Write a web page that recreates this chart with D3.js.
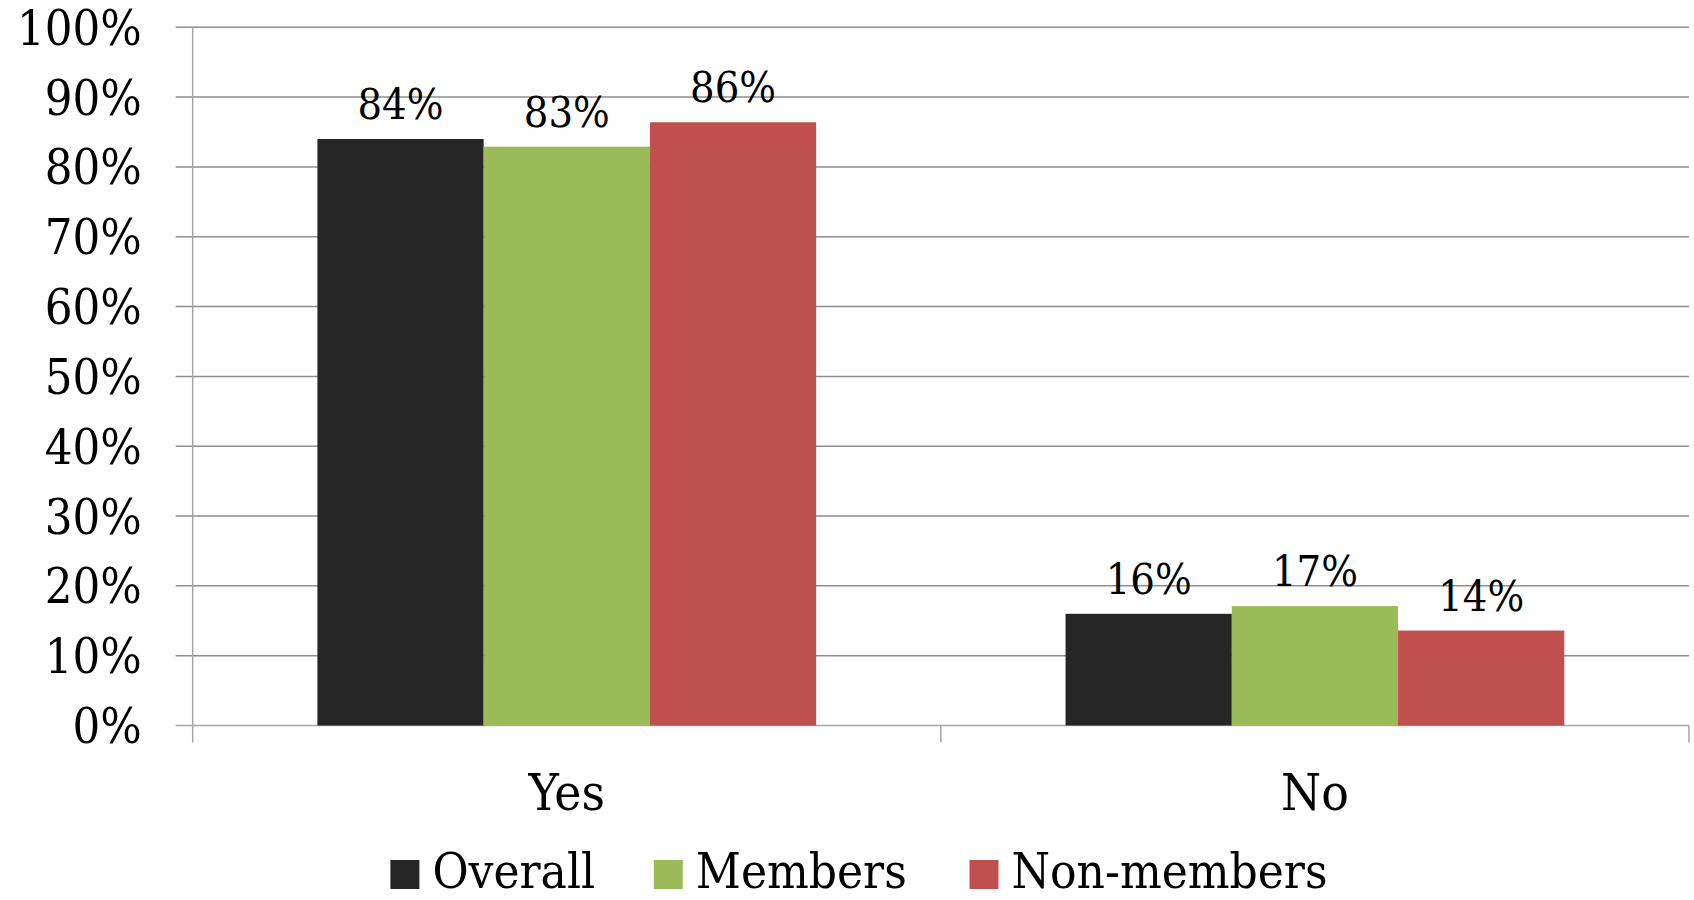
<!DOCTYPE html>
<html>
<head>
<meta charset="utf-8">
<script src="https://cdn.jsdelivr.net/npm/d3@7/dist/d3.min.js"></script>
<style>
  html, body { margin: 0; padding: 0; background: #fff; }
  svg text { font-family: 'DejaVu Serif Condensed', 'DejaVu Serif', serif; font-stretch: condensed; fill: #000; }
</style>
</head>
<body>
<svg id="chart" width="1694" height="900"></svg>
<script>
const categories = ["Yes", "No"];
const seriesNames = ["Overall", "Members", "Non-members"];
const overallValues = [84.0, 16.0];
const membersValues = [82.9, 17.1];
const nonMembersValues = [86.4, 13.6];
const overallLabels = ["84%", "16%"];
const membersLabels = ["83%", "17%"];
const nonMembersLabels = ["86%", "14%"];
const yTicks = [0, 10, 20, 30, 40, 50, 60, 70, 80, 90, 100];
const colors = ["#262626", "#9BBB59", "#C0504D"];

const seriesValues = [overallValues, membersValues, nonMembersValues];
const seriesLabels = [overallLabels, membersLabels, nonMembersLabels];

const svg = d3.select("#chart");
const plotLeft = 192.7, plotRight = 1689, plotTop = 27.3, plotBottom = 725.5;

const y = d3.scaleLinear().domain([0, 100]).range([plotBottom, plotTop]);
const x0 = d3.scaleBand().domain(categories).range([plotLeft, plotRight]).paddingInner(0).paddingOuter(0);
const x1 = d3.scaleBand().domain(seriesNames).range([0, x0.bandwidth()]).paddingInner(0).paddingOuter(0.75);

const gridColor = "#8e8e8e";

// gridlines with left tick extension
svg.append("g").selectAll("line").data(yTicks).join("line")
  .attr("x1", plotLeft - 17).attr("x2", plotRight)
  .attr("y1", d => y(d)).attr("y2", d => y(d))
  .attr("stroke", d => d === 0 ? "#a6a6a6" : gridColor)
  .attr("stroke-width", 1.5);

// vertical axis
svg.append("line")
  .attr("x1", plotLeft).attr("x2", plotLeft)
  .attr("y1", plotTop).attr("y2", plotBottom + 17)
  .attr("stroke", "#a6a6a6").attr("stroke-width", 1.5);

// category boundary ticks
const boundaries = categories.map(c => x0(c)).concat([x0(categories[categories.length - 1]) + x0.bandwidth()]);
svg.append("g").selectAll("line").data(boundaries.slice(1)).join("line")
  .attr("x1", d => d).attr("x2", d => d)
  .attr("y1", plotBottom).attr("y2", plotBottom + 17)
  .attr("stroke", "#a6a6a6").attr("stroke-width", 1.5);

// y tick labels
svg.append("g").selectAll("text").data(yTicks).join("text")
  .attr("x", plotLeft - 51).attr("y", d => y(d)).attr("dy", "0.36em")
  .attr("text-anchor", "end")
  .style("font-size", "48.5px")
  .text(d => d + "%");

// bars
seriesNames.forEach((s, si) => {
  const g = svg.append("g");
  g.selectAll("rect").data(categories).join("rect")
    .attr("x", c => x0(c) + x1(s))
    .attr("y", (c, ci) => y(seriesValues[si][ci]))
    .attr("width", x1.bandwidth())
    .attr("height", (c, ci) => y(0) - y(seriesValues[si][ci]))
    .attr("fill", colors[si]);
  g.selectAll("text").data(categories).join("text")
    .attr("x", c => x0(c) + x1(s) + x1.bandwidth() / 2)
    .attr("y", (c, ci) => y(seriesValues[si][ci]) - 20)
    .attr("text-anchor", "middle")
    .style("font-size", "43px")
    .text((c, ci) => seriesLabels[si][ci]);
});

// category labels
svg.append("g").selectAll("text").data(categories).join("text")
  .attr("x", c => x0(c) + x0.bandwidth() / 2)
  .attr("y", 810)
  .attr("text-anchor", "middle")
  .style("font-size", "51px")
  .text(c => c);

// legend
const legendX = [390.4, 653.8, 969.5];
const lg = svg.append("g");
seriesNames.forEach((s, i) => {
  lg.append("rect").attr("x", legendX[i]).attr("y", 860).attr("width", 29).attr("height", 29).attr("fill", colors[i]);
  lg.append("text").attr("x", legendX[i] + 42).attr("y", 888)
    .style("font-size", "49px").text(s);
});
</script>
</body>
</html>
